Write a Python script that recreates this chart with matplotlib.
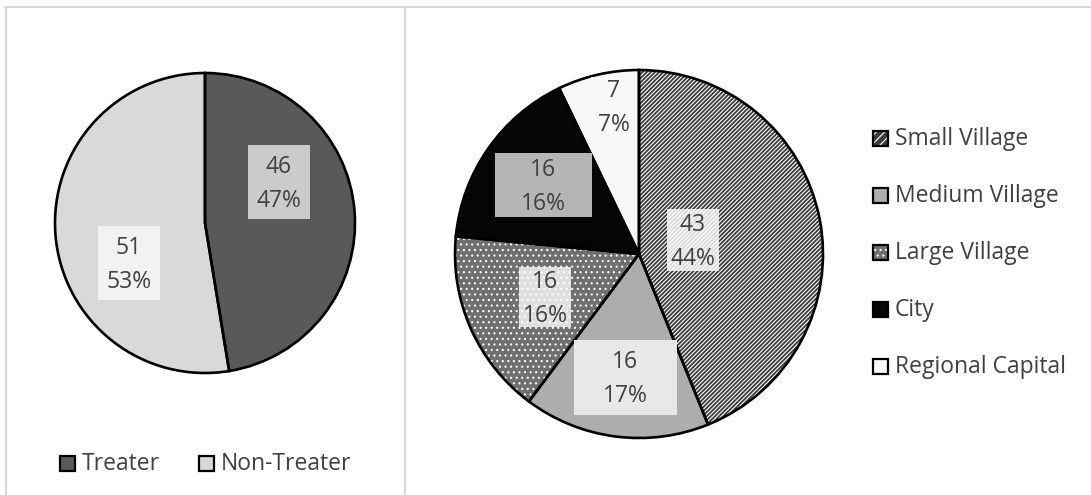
import matplotlib.pyplot as plt
from matplotlib.patches import Rectangle

plt.rcParams["font.family"] = ["Open Sans", "DejaVu Sans"]
plt.rcParams["hatch.linewidth"] = 0.8

W, H = 1091, 495

# left pie: treater split
treat_labels = ["Treater", "Non-Treater"]
treat_counts = [46, 51]
treat_pcts = ["47%", "53%"]
treat_colors = ["#595959", "#d9d9d9"]

# right pie: settlement type
settle_labels = ["Small Village", "Medium Village", "Large Village", "City", "Regional Capital"]
settle_counts = [43, 16, 16, 16, 7]
settle_pcts = ["44%", "17%", "16%", "16%", "7%"]
settle_colors = ["#3c3c3c", "#adadad", "#6f6f6f", "#050505", "#f8f8f8"]
settle_hatch = ["////////", None, "...", None, None]

TXT = "#404040"
FS = 16.5


def Y(y):
    return H - y


fig = plt.figure(figsize=(W / 100, H / 100), dpi=100)
ax = fig.add_axes([0, 0, 1, 1])

# panel frame lines
ax.plot([5, 1090], [Y(7), Y(7)], color="#d9d9d9", lw=1.5)
ax.plot([6, 6], [Y(7), 0], color="#d9d9d9", lw=1.5)
ax.plot([405, 405], [Y(7), 0], color="#d9d9d9", lw=1.5)


def draw_pie(counts, colors, hatches, center, radius):
    wedges, _ = ax.pie(counts, colors=colors, startangle=90, counterclock=False,
                       center=center, radius=radius, frame=True,
                       wedgeprops=dict(linewidth=0, edgecolor="white"))
    for w, h in zip(wedges, hatches):
        if h:
            w.set_hatch(h)
    ax.pie(counts, startangle=90, counterclock=False, center=center, radius=radius,
           frame=True, wedgeprops=dict(fill=False, edgecolor="black", linewidth=1.9))


def draw_label(cx, cy, bw, bh, fc, count, pct):
    ax.add_patch(Rectangle((cx - bw / 2, Y(cy) - bh / 2), bw, bh, facecolor=fc,
                           edgecolor="none", zorder=5))
    ax.text(cx, Y(cy) - 2, f"{count}\n{pct}", ha="center", va="center", fontsize=FS,
            color=TXT, linespacing=1.55, zorder=6)


draw_pie(treat_counts, treat_colors, [None, None], (205, Y(223)), 150)
draw_pie(settle_counts, settle_colors, settle_hatch, (639, Y(254)), 184)
ax.set_xlim(0, W)
ax.set_ylim(0, H)
ax.set_aspect("equal")
ax.axis("off")

# data labels (box centre x, y, width, height, fill)
treat_boxes = [(279, 182, 62, 74, "#cbcbcb"), (129, 263, 62, 74, "#f2f2f2")]
for (cx, cy, bw, bh, fc), n, p in zip(treat_boxes, treat_counts, treat_pcts):
    draw_label(cx, cy, bw, bh, fc, n, p)

settle_boxes = [(693, 240, 52, 62, (1, 1, 1, 0.82)),
                (625, 377, 103, 75, "#e8e8e8"),
                (545, 297, 52, 60, (1, 1, 1, 0.78)),
                (543, 185, 97, 64, "#b5b5b5"),
                (614, 106, 46, 58, "#f8f8f8")]
for (cx, cy, bw, bh, fc), n, p in zip(settle_boxes, settle_counts, settle_pcts):
    draw_label(cx, cy, bw, bh, fc, n, p)


def legend_item(x, y, label, fc, hatch=None):
    sq = Rectangle((x, Y(y) - 7.5), 15, 15, facecolor=fc, edgecolor="white",
                   lw=0, hatch=hatch, zorder=5)
    ax.add_patch(sq)
    ax.add_patch(Rectangle((x, Y(y) - 7.5), 15, 15, fill=False, edgecolor="black",
                           lw=1.6, zorder=6))
    ax.text(x + 22, Y(y) - 1, label, ha="left", va="center", fontsize=FS, color=TXT)


# bottom legend for the left pie
for x, lab, c in zip([60, 199], treat_labels, treat_colors):
    legend_item(x, 463, lab, c)

# side legend for the right pie
for i, (lab, c, h) in enumerate(zip(settle_labels, settle_colors, settle_hatch)):
    legend_item(873, 138 + i * 57, lab, c, "////" if h and "/" in h else h)

fig.savefig("out.png", dpi=100)
